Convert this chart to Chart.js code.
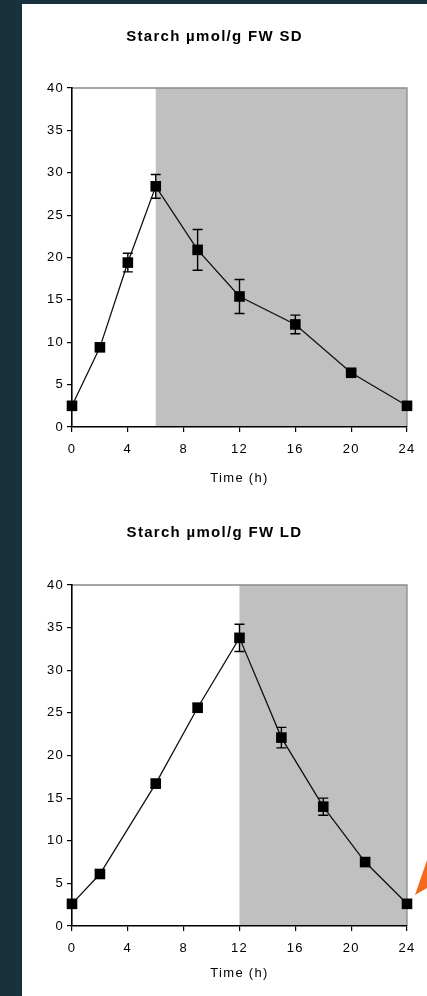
<!DOCTYPE html>
<html>
<head>
<meta charset="utf-8">
<script src="https://cdn.jsdelivr.net/npm/chart.js@4/dist/chart.umd.min.js"></script>
<style>
  html, body { margin: 0; padding: 0; }
  body { width: 427px; height: 996px; background: #17323c; position: relative; overflow: hidden; }
  #panel { position: absolute; left: 22px; top: 4px; right: 0; bottom: 0; background: #fff; }
  .box { position: absolute; left: 22px; width: 405px; height: 496px; }
  #box1 { top: 4px; }
  #box2 { top: 500px; }
  #arrow { position: absolute; left: 415px; top: 860px; width: 12px; height: 35px; background: #f26a1b;
           clip-path: polygon(100% 0, 100% 80%, 0 100%); }
</style>
</head>
<body>
<div id="panel"></div>
<div class="box" id="box1"><canvas id="sdChart"></canvas></div>
<div class="box" id="box2"><canvas id="ldChart"></canvas></div>
<div id="arrow"></div>

<script>
// short day: lights off at 6 h
const sdHours = [0, 2, 4, 6, 9, 12, 16, 20, 24];
const sdStarch = [2.5, 9.4, 19.4, 28.4, 20.9, 15.4, 12.1, 6.4, 2.5];
const sdError = [0.3, 0.4, 1.1, 1.4, 2.4, 2.0, 1.1, 0.3, 0.3];
const sdDarkFrom = 6;

// long day: lights off at 12 h
const ldHours = [0, 2, 6, 9, 12, 15, 18, 21, 24];
const ldStarch = [2.6, 6.1, 16.7, 25.6, 33.8, 22.1, 14.0, 7.5, 2.6];
const ldError = [0.3, 0.4, 0.5, 0.5, 1.6, 1.2, 1.0, 0.4, 0.3];
const ldDarkFrom = 12;

const hourTicks = [0, 4, 8, 12, 16, 20, 24];
const starchTicks = [0, 5, 10, 15, 20, 25, 30, 35, 40];

const FONT = 'Liberation Sans, Arial, sans-serif';
const SPACING = '1.3px';

// grey block for the dark period + thin grey frame on top/right
const nightShade = {
  id: 'nightShade',
  beforeDraw(chart, args, opts) {
    const { ctx, chartArea: a, scales: { x } } = chart;
    const x0 = x.getPixelForValue(opts.from);
    const x1 = x.getPixelForValue(x.max);
    ctx.save();
    ctx.fillStyle = '#c0c0c0';
    ctx.fillRect(x0, a.top, x1 - x0, a.bottom - a.top);
    ctx.strokeStyle = '#8a8a8a';
    ctx.lineWidth = 1.3;
    ctx.beginPath();
    ctx.moveTo(a.left, a.top);
    ctx.lineTo(a.right, a.top);
    ctx.lineTo(a.right, a.bottom);
    ctx.stroke();
    ctx.restore();
    ctx.letterSpacing = SPACING;
  }
};

// SD whiskers, drawn under the markers
const errorBars = {
  id: 'errorBars',
  beforeDatasetsDraw(chart, args, opts) {
    const { ctx, scales: { x, y } } = chart;
    const pts = chart.data.datasets[0].data;
    ctx.save();
    ctx.strokeStyle = '#000';
    ctx.lineWidth = 1.4;
    pts.forEach((p, i) => {
      const e = opts.errors[i];
      const px = x.getPixelForValue(p.x);
      const top = y.getPixelForValue(p.y + e);
      const bot = y.getPixelForValue(p.y - e);
      ctx.beginPath();
      ctx.moveTo(px, top); ctx.lineTo(px, bot);
      ctx.moveTo(px - 5, top); ctx.lineTo(px + 5, top);
      ctx.moveTo(px - 5, bot); ctx.lineTo(px + 5, bot);
      ctx.stroke();
    });
    ctx.restore();
  }
};

// the old excel export has wide letter spacing
const wideText = {
  id: 'wideText',
  beforeLayout(chart) { chart.ctx.letterSpacing = SPACING; }
};

function starchChart(id, title, hours, values, errors, darkFrom, pad) {
  const ctx = document.getElementById(id).getContext('2d');
  return new Chart(ctx, {
    type: 'line',
    data: {
      datasets: [{
        data: hours.map((h, i) => ({ x: h, y: values[i] })),
        borderColor: '#111',
        borderWidth: 1.3,
        pointStyle: 'rect',
        pointRadius: 7.5,
        pointBackgroundColor: '#000',
        pointBorderWidth: 0,
        clip: false
      }]
    },
    options: {
      responsive: true,
      maintainAspectRatio: false,
      animation: false,
      layout: { padding: { left: 0, right: 20, top: 0, bottom: pad.bottom } },
      plugins: {
        legend: { display: false },
        tooltip: { enabled: false },
        title: {
          display: true,
          text: title,
          color: '#000',
          font: { family: FONT, size: 15, weight: 'bold' },
          padding: { top: pad.titleTop, bottom: pad.titleBottom }
        },
        nightShade: { from: darkFrom },
        errorBars: { errors: errors }
      },
      scales: {
        x: {
          type: 'linear',
          min: 0,
          max: 24,
          afterBuildTicks: s => { s.ticks = hourTicks.map(v => ({ value: v })); },
          afterFit: s => { s.height = pad.xHeight; },
          ticks: { color: '#000', font: { family: FONT, size: 13 }, padding: 10 },
          grid: { drawOnChartArea: false, tickLength: 5, color: '#000', lineWidth: 1.2 },
          border: { color: '#000', width: 1.6 },
          title: {
            display: true,
            text: 'Time (h)',
            color: '#000',
            font: { family: FONT, size: 13 },
            padding: { top: 0, bottom: pad.xTitle }
          }
        },
        y: {
          min: 0,
          max: 40,
          afterBuildTicks: s => { s.ticks = starchTicks.map(v => ({ value: v })); },
          afterFit: s => { s.width = 50; },
          ticks: { color: '#000', font: { family: FONT, size: 13 }, padding: 3 },
          grid: { drawOnChartArea: false, tickLength: 5, color: '#000', lineWidth: 1.2 },
          border: { color: '#000', width: 1.6 }
        }
      }
    },
    plugins: [wideText, nightShade, errorBars]
  });
}

starchChart('sdChart', 'Starch µmol/g FW SD', sdHours, sdStarch, sdError, sdDarkFrom,
  { titleTop: 24, titleBottom: 42, xHeight: 60, xTitle: 1, bottom: 13 });
starchChart('ldChart', 'Starch µmol/g FW LD', ldHours, ldStarch, ldError, ldDarkFrom,
  { titleTop: 24, titleBottom: 43, xHeight: 60, xTitle: 5, bottom: 10 });
</script>
</body>
</html>
